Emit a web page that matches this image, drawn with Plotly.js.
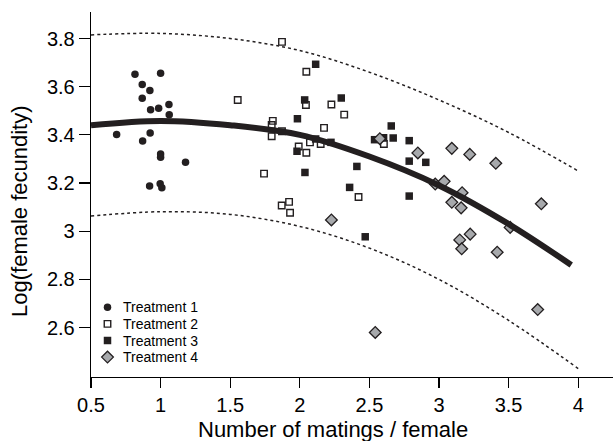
<!DOCTYPE html>
<html>
<head>
<meta charset="utf-8">
<script src="https://cdn.plot.ly/plotly-3.0.1.min.js"></script>
<style>html,body{margin:0;padding:0;background:#fff;}#chart{width:613px;height:441px;}</style>
</head>
<body>
<div id="chart"></div>
<script>
// Treatment 1 (filled circles)
const t1x = [0.816,1.0,0.868,0.923,0.868,0.928,0.986,1.06,1.062,0.684,0.925,0.871,1.0,1.0,1.179,0.921,0.997,1.009];
const t1y = [3.652,3.656,3.609,3.584,3.552,3.504,3.511,3.526,3.484,3.402,3.408,3.375,3.321,3.307,3.286,3.188,3.197,3.180];
// Treatment 2 (open squares)
const t2x = [1.554,1.872,2.047,2.044,2.227,2.319,1.806,1.798,2.174,1.872,1.798,2.073,2.15,2.604,1.992,2.047,1.743,2.422,1.923,1.87,1.93];
const t2y = [3.545,3.786,3.662,3.524,3.526,3.484,3.458,3.441,3.429,3.415,3.394,3.369,3.362,3.362,3.352,3.326,3.239,3.142,3.122,3.107,3.077];
// Treatment 3 (filled squares)
const t3x = [2.114,2.035,2.298,1.983,2.657,2.537,2.602,2.671,2.786,2.114,2.224,1.98,2.786,2.905,2.037,2.41,2.358,2.786,2.47];
const t3y = [3.693,3.545,3.553,3.467,3.437,3.380,3.388,3.387,3.376,3.383,3.369,3.332,3.291,3.286,3.244,3.269,3.182,3.146,2.977];
// Treatment 4 (grey diamonds)
const t4x = [2.575,2.848,3.092,3.221,3.408,2.973,3.037,3.166,3.092,3.159,3.735,3.511,3.224,3.149,3.163,3.418,3.709,2.227,2.542];
const t4y = [3.384,3.325,3.344,3.319,3.282,3.196,3.207,3.160,3.120,3.097,3.114,3.016,2.988,2.964,2.927,2.913,2.675,3.047,2.580];
// Fitted curve and interval bounds
const fitX = [0.5,1.0,1.5,2.0,2.5,3.0,3.5,3.95];
const fitY = [3.44,3.458,3.44,3.40,3.31,3.19,3.03,2.86];
const bandX = [0.5,1.0,1.5,2.0,2.5,3.0,3.5,4.0];
const upperY = [3.815,3.821,3.80,3.75,3.66,3.545,3.41,3.25];
const lowerY = [3.063,3.081,3.07,3.02,2.93,2.80,2.63,2.43];
const legendNames = ['Treatment 1','Treatment 2','Treatment 3','Treatment 4'];
const xTicks = [0.5,1,1.5,2,2.5,3,3.5,4];
const yTicks = [2.6,2.8,3,3.2,3.4,3.6,3.8];
const xTitle = 'Number of matings / female';
const yTitle = 'Log(female fecundity)';

const W = 613, H = 441, ML = 91, MR = 0, MT = 12, MB = 64;
const pw = W - ML - MR, ph = H - MT - MB;
const px = v => (v - ML) / pw;        // pixel -> paper x
const py = v => (H - MB - v) / ph;    // pixel -> paper y

const dark = '#231f20';
const styles = [
  {symbol:'circle', size:7.5, color:dark},
  {symbol:'square-open', size:6.5, color:dark, line:{width:1.4}},
  {symbol:'square', size:7.5, color:dark},
  {symbol:'diamond', size:9, color:'#a7a9ac', line:{color:dark, width:1.3}}
];
const sx = [t1x, t2x, t3x, t4x], sy = [t1y, t2y, t3y, t4y];

const traces = [
  {x: bandX, y: upperY, mode:'lines', line:{color:dark, width:1.5, dash:'dot', shape:'spline'}, showlegend:false, hoverinfo:'skip'},
  {x: bandX, y: lowerY, mode:'lines', line:{color:dark, width:1.5, dash:'dot', shape:'spline'}, showlegend:false, hoverinfo:'skip'}
];
for (let i = 0; i < 4; i++) {
  traces.push({x: sx[i], y: sy[i], mode:'markers', name: legendNames[i], marker: styles[i], showlegend:false});
}
traces.push({x: fitX, y: fitY, mode:'lines', line:{color:dark, width:6, shape:'spline'}, showlegend:false, hoverinfo:'skip'});

// legend (drawn on an overlay axis in paper units)
const legY = [307.3, 323.9, 340.5, 357.1];
const annotations = [];
for (let i = 0; i < 4; i++) {
  traces.push({x:[px(107.5)], y:[py(legY[i])], xaxis:'x2', yaxis:'y2', mode:'markers', marker: styles[i], showlegend:false, hoverinfo:'skip'});
  annotations.push({xref:'paper', yref:'paper', x:px(121), y:py(legY[i]), xanchor:'left', yanchor:'middle',
    text: legendNames[i], showarrow:false, font:{size:14, color:'#000'}});
}
annotations.push({xref:'paper', yref:'paper', x:px(333), y:py(429), xanchor:'center', yanchor:'middle',
  text: xTitle, showarrow:false, font:{size:22, color:'#000'}});
annotations.push({xref:'paper', yref:'paper', x:px(19), y:py(211), xanchor:'center', yanchor:'middle', textangle:-90,
  text: yTitle, showarrow:false, font:{size:22, color:'#000'}});

const layout = {
  width:W, height:H,
  margin:{l:ML, r:MR, t:MT, b:MB},
  paper_bgcolor:'#fff', plot_bgcolor:'#fff',
  font:{family:'Liberation Sans, Arial, sans-serif', color:'#000'},
  showlegend:false,
  annotations: annotations,
  xaxis:{range:[0.5,4.25], tickvals:xTicks, ticktext:xTicks.map(String), ticks:'outside', ticklen:10, tickwidth:1.2, tickcolor:'#000',
         showline:true, linecolor:'#000', linewidth:1.3, showgrid:false, zeroline:false, tickfont:{size:20}},
  yaxis:{range:[2.395,3.91], tickvals:yTicks, ticktext:yTicks.map(String), ticks:'outside', ticklen:11, tickwidth:1.2, tickcolor:'#000',
         showline:true, linecolor:'#000', linewidth:1.3, showgrid:false, zeroline:false, tickfont:{size:20}},
  xaxis2:{overlaying:'x', range:[0,1], visible:false, fixedrange:true},
  yaxis2:{overlaying:'y', range:[0,1], visible:false, fixedrange:true}
};
Plotly.newPlot('chart', traces, layout, {displayModeBar:false, staticPlot:true});
</script>
</body>
</html>
